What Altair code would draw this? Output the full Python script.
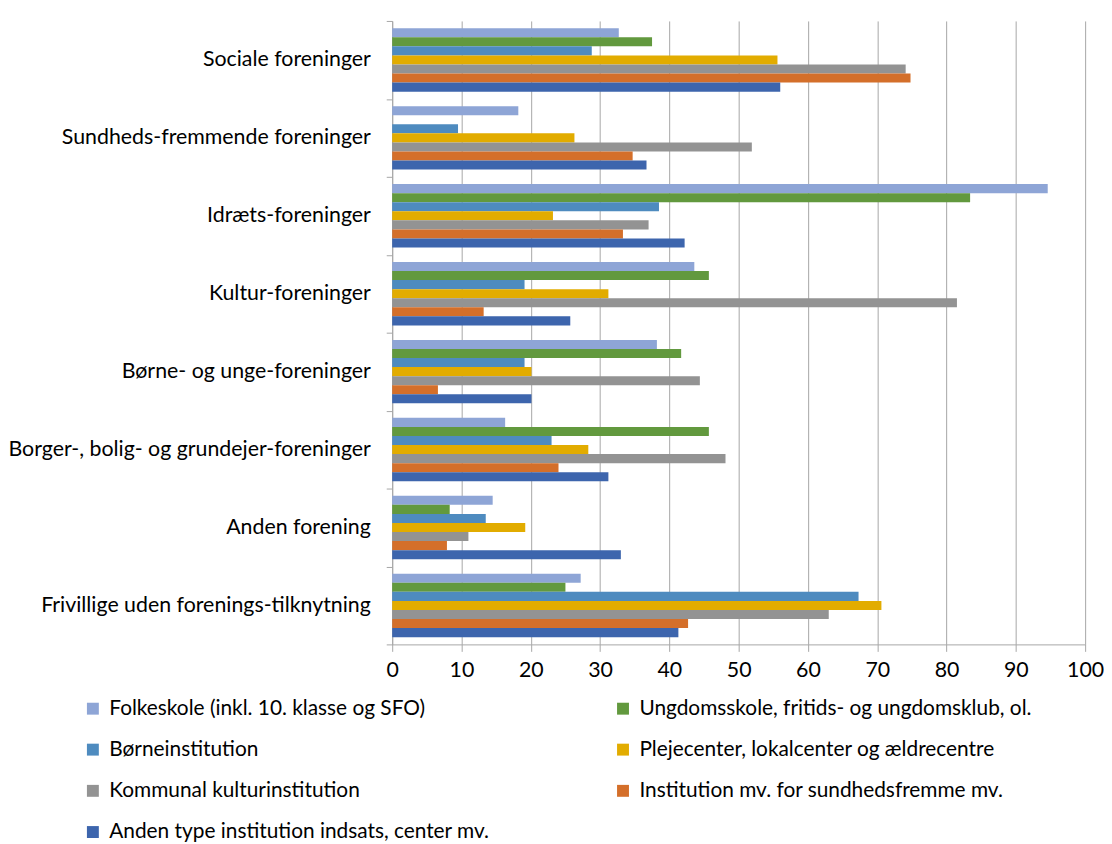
import altair as alt
import pandas as pd

categories = [
    "Sociale foreninger",
    "Sundheds-fremmende foreninger",
    "Idræts-foreninger",
    "Kultur-foreninger",
    "Børne- og unge-foreninger",
    "Borger-, bolig- og grundejer-foreninger",
    "Anden forening",
    "Frivillige uden forenings-tilknytning",
]

series = [
    "Folkeskole (inkl. 10. klasse og SFO)",
    "Ungdomsskole, fritids- og ungdomsklub, ol.",
    "Børneinstitution",
    "Plejecenter, lokalcenter og ældrecentre",
    "Kommunal kulturinstitution",
    "Institution mv. for sundhedsfremme mv.",
    "Anden type institution indsats, center mv.",
]

folkeskole   = [32.7, 18.2, 94.6, 43.6, 38.2, 16.3, 14.5, 27.2]
ungdomsskole = [37.5, 0.0, 83.4, 45.7, 41.7, 45.7, 8.3, 25.0]
boerneinst   = [28.8, 9.5, 38.5, 19.1, 19.1, 23.0, 13.5, 67.3]
plejecenter  = [55.6, 26.3, 23.2, 31.2, 20.1, 28.3, 19.2, 70.6]
kommunal     = [74.1, 51.9, 37.0, 81.5, 44.4, 48.1, 11.0, 63.0]
institution  = [74.8, 34.7, 33.3, 13.2, 6.6, 24.0, 7.9, 42.7]
anden        = [56.0, 36.7, 42.2, 25.7, 20.1, 31.2, 33.0, 41.3]

colors = ["#8EA5D6", "#62993E", "#4E8BBF", "#E2AC00", "#939393", "#D46F2A", "#3D65AD"]

values = [folkeskole, ungdomsskole, boerneinst, plejecenter, kommunal, institution, anden]
rows = []
for s, vals in zip(series, values):
    for c, v in zip(categories, vals):
        rows.append({"kategori": c, "serie": s, "værdi": v})
df = pd.DataFrame(rows)

FONT = "Lato"

chart = alt.Chart(df).mark_bar().encode(
    y=alt.Y("kategori:N", sort=categories, title=None,
            scale=alt.Scale(paddingInner=0, paddingOuter=0),
            axis=alt.Axis(tickBand="extent", domainColor="#A6A6A6", tickColor="#A6A6A6",
                          tickSize=6, labelPadding=16, labelFontSize=21.5, labelColor="#000000",
                          labelLimit=500, labelFont=FONT, grid=False)),
    yOffset=alt.YOffset("serie:N", sort=series,
                        scale=alt.Scale(paddingOuter=0.8, paddingInner=0)),
    x=alt.X("værdi:Q", title=None,
            scale=alt.Scale(domain=[0, 100], nice=False),
            axis=alt.Axis(values=list(range(0, 101, 10)), grid=True, gridColor="#A6A6A6",
                          domainColor="#A6A6A6", tickColor="#A6A6A6", tickSize=7,
                          labelPadding=8, labelFontSize=21.5, labelColor="#000000",
                          labelFont=FONT, labelFlush=False)),
    color=alt.Color("serie:N", sort=series, title=None,
                    scale=alt.Scale(domain=series, range=colors),
                    legend=alt.Legend(orient="none", legendX=-312, legendY=682,
                                      direction="horizontal",
                                      columns=2, columnPadding=123, rowPadding=19.5,
                                      symbolType="square", symbolSize=144,
                                      symbolStrokeWidth=0, labelFontSize=21,
                                      labelFont=FONT, labelColor="#000000",
                                      labelLimit=600, labelOffset=6, padding=0)),
).properties(
    width=698,
    height=628,
    autosize=alt.AutoSizeParams(type="none"),
    padding={"left": 387, "top": 10, "right": 19, "bottom": 198},
).configure_view(stroke=None)

chart.save("out.html", embed_options={"renderer": "svg", "actions": False})
